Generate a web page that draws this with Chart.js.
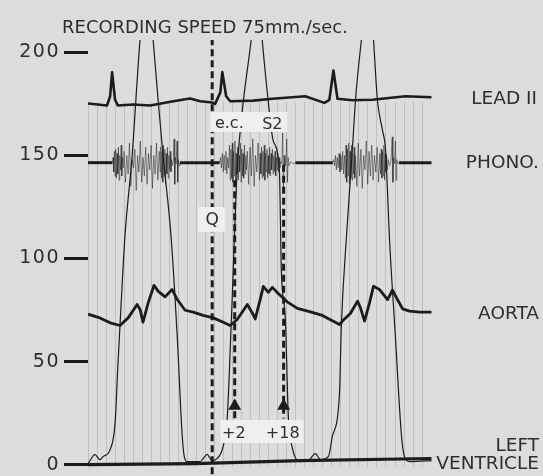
<!DOCTYPE html>
<html lang="en">
<head>
<meta charset="UTF-8">
<title>Recording speed 75 mm/sec</title>
<script src="https://cdn.jsdelivr.net/npm/chart.js"></script>
<style>
    html, body {
        margin: 0;
        padding: 0;
        background: #dcdcdc;
    }
    #wrap {
        width: 543px;
        height: 476px;
        position: relative;
    }
</style>
</head>
<body>
<div id="wrap"><canvas id="trazado"></canvas></div>
<script>
    // tiempo en ms desde el inicio del registro, presion en mmHg (escala izquierda)
    const yTicks = [0, 50, 100, 150, 200];
    const timingStep = 40;   // lineas de tiempo cada 40 ms
    const timingEnd = 1480;

    const leadII = [[0,175.2],[84,174.2],[98,178.6],[107,190.3],[120,177],[133,174.2],[200,174.7],[276,174.2],
        [378,176.3],[453,177.6],[498,176.3],[551,175.7],[564,175],[587,180.5],[596,190.4],[613,178.7],[631,176.3],
        [733,176.6],[818,177.5],[964,178.7],[1049,175.5],[1071,177],[1089,191.2],[1107,177.5],[1173,176.8],
        [1262,177],[1409,178.7],[1524,178.2]];

    const phono = [[0,146.5],[108,146.5],
        [111,149],[114,142],[117,152],[120,140],[123,153],[126,139],[129,151],[132,141],[135,154],[138,138],[141,150],
        [144,143],[147,155],[150,140],[153,149],[156,144],[160,152],[166,137],[172,150],[178,141],[184,156],[190,135],
        [196,148],[202,144],[208,153],[214,133],[220,150],[226,142],[232,157],[238,137],[244,149],[250,140],[256,154],
        [262,136],[268,151],[274,143],[280,155],[286,134],[292,150],[298,141],[304,156],[310,138],[316,152],[320,142],
        [323,154],[326,139],[329,152],[332,137],[335,155],[338,140],[341,153],[344,136],[347,151],[350,141],[353,154],
        [356,139],[359,150],[362,143],[365,152],[368,142],[371,148],[374,145],[378,147],[382,158],[385,136],[388,149],
        [391,146],[395,157],[398,137],[401,148],[404,145],[408,146.5],
        [584,146.5],[588,149],[592,144],[596,151],[600,142],[604,150],[608,143],[612,152],[616,141],[620,149],[624,144],
        [628,155],[631,138],[634,153],[637,139],[640,156],[643,137],[646,152],[649,140],[652,157],[655,136],[658,151],
        [661,141],[664,154],[667,138],[670,150],[673,142],[676,156],[679,137],[682,153],[685,140],[688,151],[691,139],
        [694,155],[697,141],[700,150],[703,143],[707,152],[713,136],[719,154],[725,140],[731,158],[737,135],[743,150],
        [749,142],[755,156],[761,138],[764,151],[767,141],[770,154],[773,139],[776,152],[779,140],[782,155],[785,138],
        [788,151],[791,142],[794,153],[797,139],[800,150],[803,141],[806,154],[809,140],[812,151],[815,143],[818,153],
        [821,141],[824,150],[827,142],[830,152],[833,140],[836,149],[839,143],[842,151],[845,142],[848,149],[851,144],
        [856,147],[860,146],[864,161],[867,134],[870,150],[874,145],[878,147],[882,158],[885,137],[888,149],[892,145],
        [900,147],[910,146],[920,146.5],
        [1086,146.5],[1090,148],[1094,145],[1098,150],[1102,143],[1106,149],[1110,144],[1114,151],[1118,142],[1122,150],
        [1126,143],[1130,152],[1134,141],[1138,150],[1142,139],[1145,155],[1148,137],[1151,153],[1154,140],[1157,156],
        [1160,136],[1163,152],[1166,139],[1169,155],[1172,138],[1175,151],[1178,141],[1181,154],[1184,139],[1187,150],
        [1193,135],[1199,156],[1205,140],[1211,153],[1217,134],[1223,150],[1229,143],[1235,157],[1241,136],[1247,152],
        [1253,140],[1259,155],[1265,138],[1271,150],[1277,142],[1283,154],[1289,137],[1295,151],[1298,141],[1301,153],
        [1304,139],[1307,152],[1310,140],[1313,155],[1316,138],[1319,151],[1322,142],[1325,150],[1328,143],[1332,148],
        [1338,145],[1344,147],[1350,159],[1353,137],[1356,149],[1360,146],[1364,157],[1367,138],[1370,148],[1374,146],
        [1380,146.5],[1524,146.5]];

    const aorta = [[0,73],[53,71.2],[98,68.8],[142,67.5],[178,71.2],[218,77.7],[231,75.3],[244,69.1],[267,78.5],
        [293,87],[311,84.2],[342,81.4],[373,85],[396,80.1],[431,74.9],[467,74],[511,72.4],[556,71.2],[600,69.1],
        [631,67.5],[662,70.4],[707,77.7],[729,73.6],[742,70.7],[764,80.1],[778,86.5],[800,83.6],[818,86],[844,83],
        [884,79],[929,75.8],[987,74.1],[1040,72.4],[1116,68],[1138,70.7],[1164,73.3],[1196,79.3],[1209,76.1],
        [1227,69.6],[1249,78.5],[1267,86.6],[1293,85],[1329,80.1],[1351,84.7],[1373,80.1],[1396,75.6],[1427,74.5],
        [1471,74],[1524,74]];

    const ventricle = [[0,0.5],[31,4.9],[53,2.4],[67,3.9],[98,7.3],[120,19.9],[133,49],[147,78],[164,111],[196,150],
        [231,206],[249,222],[262,230],[276,224],[289,206],[311,177],[333,150],[369,110],[396,62],[418,14],[427,4],
        [440,1.5],[498,1.5],[511,3],[529,5],[542,3],[551,2],[573,3],[600,9],[618,23],[636,70],[662,143],[684,171],
        [724,206],[738,220],[751,226],[764,218],[773,206],[800,176],[822,157],[849,143],[858,94],[876,70],[889,23],
        [907,8],[920,3.4],[942,1.5],[978,2],[1009,5.4],[1031,2.5],[1067,4],[1084,13.6],[1116,35],[1124,67],[1147,111],
        [1173,153],[1187,177],[1213,206],[1231,222],[1244,228],[1258,220],[1267,206],[1284,177],[1307,162],[1320,153],
        [1338,109],[1364,62],[1391,14],[1404,4],[1431,1.5],[1524,2]];

    const zeroLine = [[0,0],[476,0.5],[942,2],[1524,3]];

    // marcas verticales: Q, +2 y +18
    const qMark = [[551,-10],[551,215]];
    const plus2Mark = [[651,138],[651,28.5],[651,22.4]];
    const plus18Mark = [[868,145.5],[868,28.5],[868,22.4]];

    const ink = '#1c1c1c';
    const textInk = '#2e2e2e';
    const font = 'DejaVu Sans';

    const pts = arr => arr.map(([x, y]) => ({ x, y }));

    function trace(data, width, extra) {
        return Object.assign({
            data: pts(data),
            borderColor: ink,
            borderWidth: width,
            borderJoinStyle: 'round',
            pointRadius: 0,
            tension: 0,
            fill: false
        }, extra || {});
    }

    function marker(data) {
        return trace(data, 3, {
            borderDash: [7, 4],
            borderCapStyle: 'butt',
            pointRadius: data.map((d, i) => (data.length === 3 && i === 1) ? 4.5 : 0),
            pointStyle: 'triangle',
            pointBackgroundColor: ink,
            pointBorderColor: ink
        });
    }

    // fondo, lineas de tiempo y rotulos
    const papel = {
        id: 'papel',
        beforeDraw(chart) {
            const ctx = chart.ctx;
            ctx.save();
            ctx.fillStyle = '#dcdcdc';
            ctx.fillRect(0, 0, chart.width, chart.height);
            ctx.restore();
            ctx.letterSpacing = '1.5px'; // cifras anchas de la escala
        },
        beforeDatasetsDraw(chart) {
            const { ctx, scales: { x, y } } = chart;
            ctx.letterSpacing = '0px';
            ctx.save();
            ctx.strokeStyle = 'rgba(0,0,0,0.13)';
            ctx.lineWidth = 1;
            for (let t = 0; t <= timingEnd; t += timingStep) {
                const px = Math.round(x.getPixelForValue(t)) + 0.5;
                ctx.beginPath();
                ctx.moveTo(px, y.getPixelForValue(176));
                ctx.lineTo(px, y.getPixelForValue(-1));
                ctx.stroke();
            }
            ctx.restore();
        },
        afterDatasetsDraw(chart) {
            const { ctx, chartArea, scales: { x, y } } = chart;
            ctx.save();
            // cajas claras bajo los rotulos
            ctx.fillStyle = '#efefef';
            [[542, 884, 161.4, 171.1], [489, 609, 112.9, 125], [587, 956, 10.5, 21.7]].forEach(([t0, t1, v0, v1]) => {
                const x0 = x.getPixelForValue(t0), x1 = x.getPixelForValue(t1);
                const y0 = y.getPixelForValue(v1), y1 = y.getPixelForValue(v0);
                ctx.fillRect(x0, y0, x1 - x0, y1 - y0);
            });
            ctx.fillStyle = textInk;
            ctx.textAlign = 'center';
            ctx.textBaseline = 'alphabetic';
            ctx.font = '16px "' + font + '"';
            ctx.fillText('e.c.', x.getPixelForValue(627), y.getPixelForValue(163.3));
            ctx.fillText('S2', x.getPixelForValue(818), y.getPixelForValue(162.8));
            ctx.fillText('+2', x.getPixelForValue(647), y.getPixelForValue(13));
            ctx.fillText('+18', x.getPixelForValue(864), y.getPixelForValue(13));
            ctx.font = '17px "' + font + '"';
            ctx.fillText('Q', x.getPixelForValue(551), y.getPixelForValue(116.3));

            // nombres de los trazos a la derecha
            ctx.textAlign = 'right';
            ctx.font = '18.5px "' + font + '"';
            const xr = chartArea.right - 2;
            ctx.fillText('LEAD II', xr - 2, y.getPixelForValue(175));
            ctx.fillText('PHONO.', xr, y.getPixelForValue(143.9));
            ctx.fillText('AORTA', xr, y.getPixelForValue(70.7));
            ctx.fillText('LEFT', xr, y.getPixelForValue(6.6));
            ctx.fillText('VENTRICLE', xr, y.getPixelForValue(-2.1));

            // titulo
            ctx.textAlign = 'left';
            ctx.font = '18px "' + font + '"';
            ctx.fillText('RECORDING SPEED 75mm./sec.', chartArea.left - 26, chartArea.top - 7);
            ctx.restore();
        }
    };

    // soplos: linea base gruesa, rafagas finas y grises
    const phonoSet = trace(phono, 1, {
        segment: {
            borderWidth: c => (c.p0.parsed.y === 146.5 && c.p1.parsed.y === 146.5) ? 3 : 0.9,
            borderColor: c => (c.p0.parsed.y === 146.5 && c.p1.parsed.y === 146.5) ? ink : 'rgba(25,25,25,0.55)'
        }
    });

    new Chart(document.getElementById('trazado'), {
        type: 'line',
        data: {
            datasets: [
                trace(zeroLine, 3.2),
                trace(ventricle, 1.2, { cubicInterpolationMode: 'monotone' }),
                trace(leadII, 2.6),
                phonoSet,
                trace(aorta, 2.8),
                marker(qMark),
                marker(plus2Mark),
                marker(plus18Mark)
            ]
        },
        options: {
            responsive: true,
            maintainAspectRatio: false,
            animation: false,
            events: [],
            layout: { padding: { top: 40, right: 2, bottom: 0, left: 0 } },
            plugins: {
                legend: { display: false },
                tooltip: { enabled: false },
                title: { display: false }
            },
            scales: {
                x: { type: 'linear', min: 0, max: 2010, display: false },
                y: {
                    min: -5.5,
                    max: 206,
                    afterBuildTicks: s => { s.ticks = yTicks.map(v => ({ value: v })); },
                    afterFit: s => {
                        s.width = 88;
                        s.paddingTop = 0;
                        s.paddingBottom = 0;
                    },
                    border: { display: false },
                    grid: { drawOnChartArea: false, tickLength: 24, tickWidth: 3, tickColor: ink },
                    ticks: { color: textInk, font: { family: font, size: 19 }, padding: 4 }
                }
            }
        },
        plugins: [papel]
    });
</script>
</body>
</html>
